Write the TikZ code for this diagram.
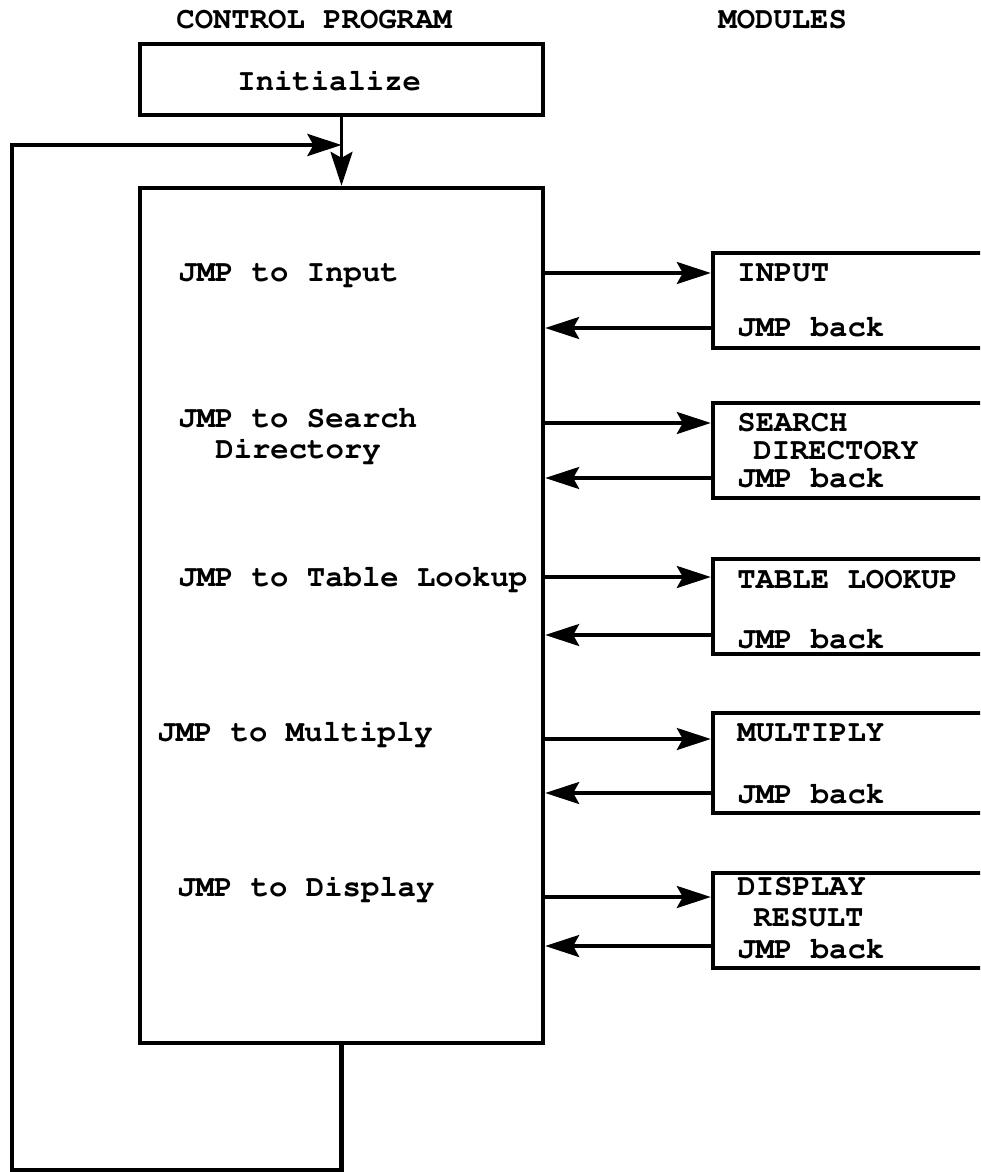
\documentclass[tikz,border=0pt]{standalone}
\usepackage[T1]{fontenc}
\renewcommand{\ttdefault}{pcr}
\usetikzlibrary{arrows.meta,fit}
\tikzset{
  % --- boxes -----------------------------------------------------------------
  blk/.style={draw,line width=2.2pt,inner sep=0pt},
  % one line of typed text, anchored at its left end, cap height centred
  txt/.style={inner sep=0pt,anchor=west,text height=8.7pt,text depth=0pt},
  % --- connectors ------------------------------------------------------------
  call/.style={-{Stealth[length=17pt,width=11pt,inset=3pt]},line width=1.6pt},
}

\begin{document}
\begin{tikzpicture}[x=0.5pt,y=-0.5pt,
    font=\ttfamily\bfseries\fontsize{15.3}{18}\selectfont]
  % page frame; the module boxes run off its right edge
  \path[use as bounding box,clip] (0,0) rectangle (980,1172);

  \node[txt] (hcp)  at (176,20) {CONTROL PROGRAM};
  \node[txt] (hmod) at (718,20) {MODULES};

  % --- control program -------------------------------------------------------
  \node[blk,fit={(140,44) (543,115)}] (init) {};
  \node[txt] (initl) at (237,82) {Initialize};
  \node[blk,fit={(140,188) (543,1043)}] (main) {};

  \draw[call] (init) -- (main);

  % back round to the top after the last module
  \coordinate (lp)  at (12,1170);
  \coordinate (ret) at (main.north |- 0,145);
  \draw[call,line width=2.2pt] (main.south) |- (lp) |- (ret);

  \node[txt] (j1)  at (178,273) {JMP to Input};
  \node[txt] (j2)  at (178,419) {JMP to Search};
  \node[txt] (j2b) at (215,450) {Directory};
  \node[txt] (j3)  at (178,578) {JMP to Table Lookup};
  \node[txt] (j4)  at (157,733) {JMP to Multiply};
  \node[txt] (j5)  at (177,888) {JMP to Display};

  % --- modules ---------------------------------------------------------------
  \node[blk,fit={(713,253) (1000,348)}] (inp) {};
  \node[txt] at (737,273) {INPUT};
  \node[txt] at (737,328) {JMP back};
  \draw[call] (main.east |- 0,273) -- (inp.west |- 0,273);
  \draw[call] (inp.west |- 0,328) -- (main.east |- 0,328);

  \node[blk,fit={(713,403) (1000,498)}] (srch) {};
  \node[txt] at (737,423) {SEARCH};
  \node[txt] at (753,451) {DIRECTORY};
  \node[txt] at (737,479) {JMP back};
  \draw[call] (main.east |- 0,423) -- (srch.west |- 0,423);
  \draw[call] (srch.west |- 0,478) -- (main.east |- 0,478);

  \node[blk,fit={(713,559) (1000,654)}] (tbl) {};
  \node[txt] at (737,580) {TABLE LOOKUP};
  \node[txt] at (737,640) {JMP back};
  \draw[call] (main.east |- 0,577) -- (tbl.west |- 0,577);
  \draw[call] (tbl.west |- 0,635) -- (main.east |- 0,635);

  \node[blk,fit={(713,713) (1000,813)}] (mul) {};
  \node[txt] at (737,733) {MULTIPLY};
  \node[txt] at (737,795) {JMP back};
  \draw[call] (main.east |- 0,739) -- (mul.west |- 0,739);
  \draw[call] (mul.west |- 0,793) -- (main.east |- 0,793);

  \node[blk,fit={(713,873) (1000,968)}] (disp) {};
  \node[txt] at (737,887) {DISPLAY};
  \node[txt] at (753,918) {RESULT};
  \node[txt] at (737,950) {JMP back};
  \draw[call] (main.east |- 0,897) -- (disp.west |- 0,897);
  \draw[call] (disp.west |- 0,946) -- (main.east |- 0,946);
\end{tikzpicture}
\end{document}
